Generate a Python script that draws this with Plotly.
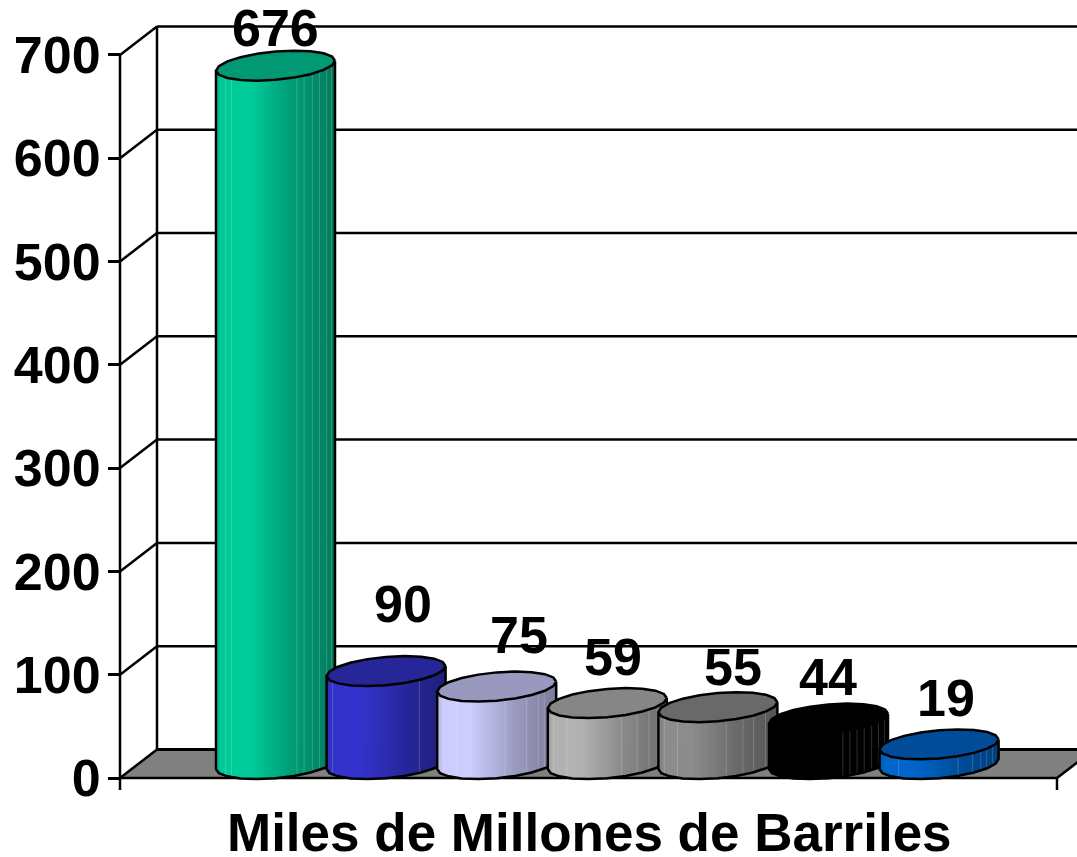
import numpy as np
import plotly.graph_objects as go

# Chart content
category = "Miles de Millones de Barriles"
values = [676, 90, 75, 59, 55, 44, 19]
base_colors = ["#00CC99", "#3333CC", "#CCCCFF", "#B2B2B2", "#8C8C8C", "#000000", "#0066CC"]
y_ticks = [0, 100, 200, 300, 400, 500, 600, 700]

# Hand-placed data label nudges (horizontal, vertical distance from the cap centre)
label_dx = [0, 17, 22, 6, 15, -1, 7]
label_dy = [38, 67, 52, 46, 40, 42, 46]

# Pale facet seams on each cylinder, as fractions of its width
seams = [
    [0.08, 0.13, 0.68, 0.74, 0.81, 0.87, 0.93, 0.97],
    [0.05, 0.78],
    [0.06, 0.17, 0.57, 0.75, 0.85, 0.90],
    [0.05, 0.16, 0.62, 0.75, 0.85, 0.92],
    [0.05, 0.16, 0.57, 0.71, 0.80, 0.90],
    [0.62, 0.68, 0.74, 0.80, 0.86, 0.92, 0.97],
    [0.16, 0.66, 0.78, 0.85, 0.90, 0.95],
]

# Page geometry of the oblique 3D box
W, H = 1077, 857
Y0_PX, PX_PER_UNIT = 778.0, 1.033
FRONT_LEFT, FRONT_RIGHT = 120.0, 1057.0
DEPTH_X, DEPTH_Y = 37.0, 28.5
FIRST_CENTER, STEP = 275.5, 110.6
MID_DEPTH_Y = 14.0
ELL_A, ELL_S, ELL_B = 56.1, 19.8, 15.0
FACETS = 20
STRIPS = 30
LINE = "#000000"
LINE_W = 2.5
FONT = "Liberation Sans"


def units(px):
    """Height in axis units for a vertical pixel distance."""
    return px / PX_PER_UNIT


def hex_rgb(c):
    return np.array([int(c[i:i + 2], 16) for i in (1, 3, 5)], dtype=float)


def css(rgb):
    r, g, b = [int(round(min(255, max(0, v)))) for v in rgb]
    return f"rgb({r},{g},{b})"


def shade(base, f):
    """Horizontal cylinder shading: bright band on the left, darker to the right."""
    k = float(np.interp(f, [0.0, 0.06, 0.28, 0.62, 1.0], [0.92, 1.0, 1.0, 0.78, 0.60]))
    return hex_rgb(base) * k


def line_trace(x, y, width=LINE_W, color=LINE):
    return go.Scatter(x=x, y=y, mode="lines", line=dict(color=color, width=width),
                      hoverinfo="skip", showlegend=False)


def fill_trace(x, y, color):
    return go.Scatter(x=x, y=y, mode="lines", fill="toself", fillcolor=color,
                      line=dict(width=0), hoverinfo="skip", showlegend=False)


fig = go.Figure()

# Floor of the box
dy_back = units(DEPTH_Y)
fig.add_trace(fill_trace(
    [FRONT_LEFT, FRONT_RIGHT, FRONT_RIGHT + DEPTH_X, FRONT_LEFT + DEPTH_X, FRONT_LEFT],
    [0, 0, dy_back, dy_back, 0], "#808080"))

# Back wall grid, side wall diagonals and the axis frame
back_left = FRONT_LEFT + DEPTH_X
for t in y_ticks:
    fig.add_trace(line_trace([back_left, W + 5], [t + dy_back, t + dy_back], 3 if t == 0 else LINE_W))
    fig.add_trace(line_trace([FRONT_LEFT, back_left], [t, t + dy_back]))
fig.add_trace(line_trace([back_left, back_left], [dy_back, y_ticks[-1] + dy_back]))
fig.add_trace(line_trace([FRONT_LEFT, FRONT_LEFT], [units(Y0_PX - 790), y_ticks[-1]]))
fig.add_trace(line_trace([FRONT_LEFT, FRONT_RIGHT], [0, 0]))
fig.add_trace(line_trace([FRONT_RIGHT, FRONT_RIGHT], [0, units(Y0_PX - 790)]))
fig.add_trace(line_trace([FRONT_RIGHT, FRONT_RIGHT + DEPTH_X], [0, dy_back]))

# Cylinders, left to right so each one overlaps the previous
t0 = np.arctan2(ELL_S, ELL_A)
half_width = ELL_A * np.cos(t0) + ELL_S * np.sin(t0)
for i, (v, base) in enumerate(zip(values, base_colors)):
    cx = FIRST_CENTER + i * STEP
    y_base = units(MID_DEPTH_Y)
    y_top = v + y_base

    ring = t0 + 2 * np.pi * np.arange(FACETS + 1) / FACETS
    ex = ELL_A * np.cos(ring) + ELL_S * np.sin(ring)
    ey = units(ELL_B) * np.sin(ring)

    # Lower arc of the faceted ring, running left to right
    arc_t = t0 - np.pi + 2 * np.pi * np.arange(FACETS // 2 + 1) / FACETS
    arc_x = ELL_A * np.cos(arc_t) + ELL_S * np.sin(arc_t)
    arc_y = units(ELL_B) * np.sin(arc_t)

    # Shaded body as narrow vertical strips
    edges = np.linspace(-half_width, half_width, STRIPS + 1)
    for k in range(STRIPS):
        a, b = edges[k], min(edges[k + 1] + 0.7, half_width)
        f = (k + 0.5) / STRIPS
        ya, yb = np.interp([a, b], arc_x, arc_y)
        fig.add_trace(fill_trace(
            [cx + a, cx + b, cx + b, cx + a, cx + a],
            [y_base + ya, y_base + yb, y_top + yb, y_top + ya, y_base + ya],
            css(shade(base, f))))

    # Facet seams, one pixel wide and a little paler than the body
    for s in seams[i]:
        sx = -half_width + 2 * half_width * s
        sy = float(np.interp(sx, arc_x, arc_y))
        rgb = shade(base, s)
        fig.add_trace(line_trace([cx + sx, cx + sx], [y_base + sy, y_top + sy], 1,
                                 css(rgb + (255 - rgb) * 0.18)))

    # Side and bottom outline
    side_x = np.r_[cx + arc_x[0], cx + arc_x, cx + arc_x[-1]]
    side_y = np.r_[y_top + arc_y[0], y_base + arc_y, y_top + arc_y[-1]]
    fig.add_trace(line_trace(side_x, side_y))

    # Flat cap, darker than the body
    cap = css(hex_rgb(base) * 0.75)
    fig.add_trace(go.Scatter(x=cx + ex, y=y_top + ey, mode="lines", fill="toself", fillcolor=cap,
                             line=dict(color=LINE, width=LINE_W), hoverinfo="skip", showlegend=False))

    # Value label
    fig.add_annotation(x=cx + label_dx[i], y=y_top + units(label_dy[i]), text=str(v),
                       showarrow=False, xanchor="center", yanchor="middle",
                       font=dict(family=FONT, size=52, color="#000000", weight=700))

# Category label under the box
fig.add_annotation(x=589, y=units(Y0_PX - 832), text=category, showarrow=False,
                   xanchor="center", yanchor="middle",
                   font=dict(family=FONT, size=53, color="#000000", weight=700))

fig.update_layout(
    width=W, height=H,
    margin=dict(l=0, r=0, t=0, b=0),
    paper_bgcolor="#FFFFFF", plot_bgcolor="#FFFFFF",
    showlegend=False,
    xaxis=dict(range=[0, W], domain=[0, 1], visible=False, fixedrange=True),
    yaxis=dict(
        range=[units(Y0_PX - H), units(Y0_PX)], domain=[0, 1],
        anchor="free", position=FRONT_LEFT / W, side="left",
        tickmode="array", tickvals=y_ticks, ticktext=[str(t) for t in y_ticks],
        ticks="outside", ticklen=12, tickwidth=LINE_W, tickcolor=LINE,
        ticklabelstandoff=-3,
        tickfont=dict(family=FONT, size=52, color="#000000", weight=700),
        showgrid=False, zeroline=False, showline=False, fixedrange=True,
        automargin=False,
    ),
)

fig.write_html("out.html")
